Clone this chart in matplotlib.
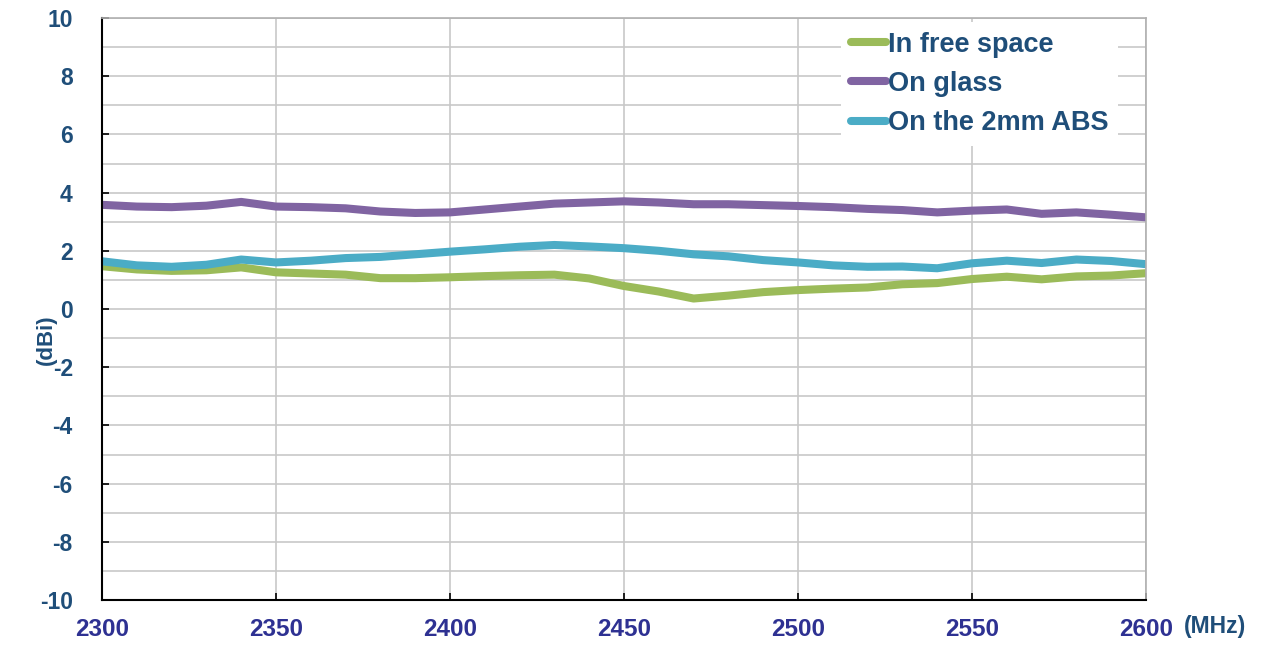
import numpy as np
import matplotlib
matplotlib.use('Agg')
import matplotlib.pyplot as plt
from matplotlib.ticker import MultipleLocator

plt.rcParams['font.family'] = ['Liberation Sans', 'DejaVu Sans']
plt.rcParams['axes.unicode_minus'] = False

# Frecuencia (MHz)
freq = np.arange(2300, 2601, 10)

# Ganancia (dBi)
free_space = [1.47, 1.36, 1.31, 1.33, 1.43, 1.26, 1.22, 1.18, 1.06, 1.06,
              1.09, 1.13, 1.16, 1.18, 1.05, 0.79, 0.60, 0.36, 0.46, 0.58,
              0.65, 0.70, 0.74, 0.85, 0.89, 1.03, 1.11, 1.02, 1.12, 1.15, 1.23]
on_glass = [3.58, 3.52, 3.50, 3.55, 3.68, 3.52, 3.50, 3.46, 3.35, 3.30,
            3.32, 3.42, 3.52, 3.62, 3.66, 3.70, 3.66, 3.60, 3.60, 3.57,
            3.54, 3.50, 3.44, 3.40, 3.32, 3.38, 3.42, 3.27, 3.32, 3.24, 3.15]
on_abs = [1.64, 1.50, 1.45, 1.52, 1.70, 1.60, 1.66, 1.75, 1.79, 1.88,
          1.97, 2.05, 2.14, 2.20, 2.15, 2.09, 2.00, 1.88, 1.81, 1.68,
          1.60, 1.50, 1.45, 1.46, 1.40, 1.57, 1.66, 1.58, 1.70, 1.65, 1.54]

series = [('In free space', free_space, '#9BBB59'),
          ('On glass', on_glass, '#8064A2'),
          ('On the 2mm ABS', on_abs, '#4BACC6')]

fig = plt.figure(figsize=(12.61, 6.46), dpi=100)
ax = fig.add_axes([102/1261, 1 - 600/646, 1044/1261, 582/646])

for label, vals, color in series:
    ax.plot(freq, vals, color=color, lw=5.8, solid_capstyle='round',
            solid_joinstyle='round', label=label)

ax.set_xlim(2300, 2600)
ax.set_ylim(-10, 10)
ax.xaxis.set_major_locator(MultipleLocator(50))
ax.yaxis.set_major_locator(MultipleLocator(2))
ax.yaxis.set_minor_locator(MultipleLocator(1))
ax.grid(True, which='both', axis='y', color='#C8C8C8', lw=1.2)
ax.grid(True, which='major', axis='x', color='#C8C8C8', lw=1.2)
ax.set_axisbelow(True)

ax.tick_params(axis='both', which='major', direction='in', length=5, width=1.2)
ax.tick_params(axis='y', which='minor', length=0)
ax.tick_params(axis='x', pad=13)
ax.tick_params(axis='y', pad=21)
for t in ax.get_xticklabels():
    t.set_fontsize(17.5)
    t.set_fontweight('bold')
    t.set_color('#2E3192')
for t in ax.get_yticklabels():
    t.set_fontsize(16.5)
    t.set_fontweight('bold')
    t.set_color('#1F4E79')

for s in ['left', 'bottom']:
    ax.spines[s].set_color('black')
    ax.spines[s].set_linewidth(1.5)
for s in ['top', 'right']:
    ax.spines[s].set_color('#B0B0B0')
    ax.spines[s].set_linewidth(1.2)

fig.text(46/1261, 1 - 340/646, '(dBi)', rotation=90, ha='center', va='center',
         fontsize=16, fontweight='bold', color='#1F4E79')
fig.text(1215/1261, 1 - 626/646, '(MHz)', ha='center', va='center',
         fontsize=16.5, fontweight='bold', color='#1F4E79')

leg = ax.legend(loc='upper left', bbox_to_anchor=(0.708, 0.993), borderaxespad=0,
                frameon=True, fancybox=False, edgecolor='none', facecolor='white',
                framealpha=1, handlelength=1.29, handletextpad=0.1,
                labelspacing=0.49, borderpad=0.35,
                prop={'size': 19.5, 'weight': 'bold'})
for t in leg.get_texts():
    t.set_color('#1F4E79')

plt.savefig('out.png', dpi=100)
